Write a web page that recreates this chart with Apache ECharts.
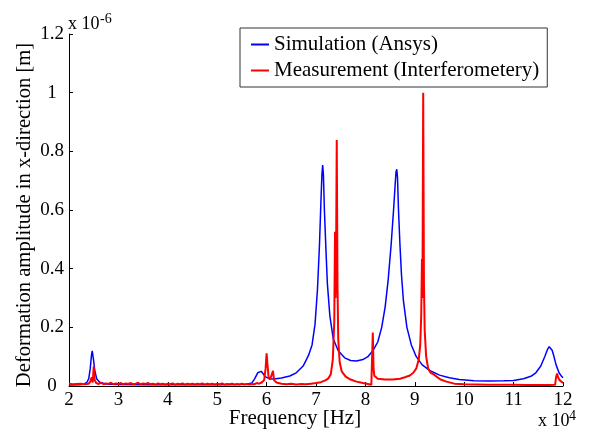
<!DOCTYPE html>
<html>
<head>
<meta charset="utf-8">
<script src="https://cdn.jsdelivr.net/npm/echarts@6/dist/echarts.min.js"></script>
<style>html,body{margin:0;padding:0;background:#fff}#c{width:590px;height:432px}</style>
</head>
<body>
<div id="c"></div>
<script>
// Frequency in units of 1e4 Hz, amplitude in units of 1e-6 m
var xTicks = [2,3,4,5,6,7,8,9,10,11,12];
var yTicks = [0,0.2,0.4,0.6,0.8,1,1.2];
var xName = 'Frequency [Hz]';
var yName = 'Deformation amplitude in x-direction [m]';

var simFreq = [2.0,2.2,2.3,2.36,2.4,2.43,2.455,2.47,2.485,2.5,2.52,2.56,2.62,2.75,3.0,3.5,4.0,4.5,5.0,5.4,5.6,5.7,5.76,5.82,5.86,5.89,5.93,5.97,6.05,6.15,6.3,6.47,6.6,6.74,6.85,6.92,6.98,7.03,7.07,7.1,7.12,7.135,7.15,7.17,7.2,7.23,7.28,7.35,7.45,7.58,7.7,7.82,7.95,8.05,8.15,8.25,8.33,8.4,8.46,8.52,8.57,8.6,8.62,8.635,8.65,8.67,8.7,8.73,8.77,8.84,8.93,9.03,9.15,9.3,9.5,9.7,9.9,10.2,10.5,10.8,11.0,11.2,11.35,11.45,11.55,11.63,11.69,11.72,11.75,11.78,11.81,11.86,11.92,11.97,12.0];
var simAmp  = [0.003,0.004,0.006,0.012,0.025,0.06,0.105,0.12,0.115,0.085,0.055,0.025,0.013,0.007,0.005,0.004,0.004,0.004,0.004,0.005,0.006,0.01,0.025,0.045,0.051,0.05,0.042,0.032,0.025,0.024,0.027,0.034,0.045,0.068,0.105,0.14,0.21,0.33,0.48,0.63,0.72,0.753,0.72,0.6,0.47,0.35,0.24,0.16,0.12,0.096,0.087,0.085,0.09,0.1,0.12,0.15,0.2,0.27,0.36,0.48,0.6,0.68,0.73,0.739,0.71,0.6,0.48,0.38,0.29,0.2,0.14,0.1,0.072,0.053,0.037,0.028,0.022,0.018,0.017,0.018,0.019,0.025,0.033,0.045,0.068,0.10,0.126,0.134,0.132,0.122,0.105,0.072,0.045,0.033,0.028];

var measFreq = [2.0,2.04,2.08,2.12,2.16,2.2,2.24,2.28,2.32,2.36,2.4,2.43,2.46,2.48,2.5,2.52,2.55,2.6,2.65,2.7,2.75,2.8,2.85,2.9,2.95,3.0,3.05,3.1,3.15,3.2,3.25,3.3,3.35,3.4,3.45,3.5,3.55,3.6,3.65,3.7,3.75,3.8,3.85,3.9,3.95,4.0,4.05,4.1,4.15,4.2,4.25,4.3,4.35,4.4,4.45,4.5,4.55,4.6,4.65,4.7,4.75,4.8,4.85,4.9,4.95,5.0,5.05,5.1,5.15,5.2,5.25,5.3,5.35,5.4,5.45,5.5,5.55,5.6,5.65,5.7,5.75,5.8,5.85,5.9,5.95,5.98,6.0,6.02,6.04,6.07,6.1,6.13,6.15,6.2,6.3,6.4,6.5,6.6,6.7,6.8,6.9,7.0,7.1,7.2,7.25,7.3,7.34,7.37,7.385,7.395,7.405,7.42,7.435,7.45,7.48,7.52,7.6,7.7,7.82,7.95,8.05,8.12,8.15,8.165,8.18,8.25,8.4,8.55,8.7,8.8,8.9,8.97,9.03,9.08,9.11,9.13,9.145,9.155,9.17,9.185,9.2,9.23,9.27,9.32,9.38,9.44,9.52,9.64,9.8,10.0,10.25,10.5,10.75,11.0,11.25,11.5,11.7,11.84,11.86,11.88,11.9,11.93,11.96,12.0];
var measAmp  = [0.008,0.012,0.006,0.011,0.007,0.013,0.008,0.012,0.006,0.01,0.008,0.015,0.03,0.012,0.066,0.02,0.01,0.007,0.011,0.006,0.009,0.007,0.011,0.006,0.009,0.007,0.01,0.006,0.009,0.007,0.01,0.006,0.008,0.011,0.006,0.009,0.007,0.01,0.006,0.008,0.005,0.009,0.006,0.008,0.005,0.008,0.006,0.009,0.005,0.008,0.006,0.009,0.005,0.008,0.006,0.008,0.005,0.008,0.006,0.009,0.005,0.008,0.006,0.008,0.005,0.008,0.006,0.009,0.005,0.007,0.006,0.008,0.005,0.007,0.005,0.008,0.005,0.007,0.005,0.007,0.006,0.01,0.008,0.012,0.02,0.06,0.111,0.07,0.03,0.022,0.018,0.052,0.02,0.012,0.008,0.006,0.008,0.005,0.007,0.006,0.008,0.01,0.013,0.02,0.026,0.04,0.09,0.22,0.526,0.3,0.4,0.839,0.35,0.16,0.08,0.05,0.032,0.022,0.015,0.01,0.007,0.004,0.182,0.06,0.035,0.025,0.022,0.022,0.025,0.03,0.036,0.045,0.06,0.09,0.14,0.24,0.433,0.3,1.0,0.35,0.19,0.1,0.06,0.045,0.04,0.032,0.022,0.015,0.008,0.006,0.005,0.004,0.004,0.004,0.003,0.003,0.003,0.004,0.03,0.043,0.03,0.02,0.015,0.01];

function zip(a,b){var r=[];for(var i=0;i<a.length;i++)r.push([a[i],b[i]]);return r;}

var FONT = 'Liberation Serif';
var chart = echarts.init(document.getElementById('c'), null, {renderer:'canvas'});
chart.setOption({
  animation:false,
  backgroundColor:'#fff',
  grid:{left:69,right:27,top:34,bottom:46,containLabel:false},
  legend:{
    orient:'vertical', left:240, top:28,
    padding:[6,8,6,11], itemGap:5,
    itemWidth:18, itemHeight:2, icon:'rect',
    borderColor:'#333', borderWidth:1, backgroundColor:'#fff',
    textStyle:{fontFamily:FONT,fontSize:21,color:'#000',lineHeight:20},
    data:['Simulation (Ansys)','Measurement (Interferometery)']
  },
  xAxis:{
    type:'value', min:xTicks[0], max:xTicks[xTicks.length-1], interval:1,
    axisLine:{lineStyle:{color:'#000',width:1}},
    axisTick:{inside:true,length:4,lineStyle:{color:'#000'}},
    axisLabel:{fontFamily:FONT,fontSize:19,color:'#000',margin:5},
    splitLine:{show:false}
  },
  yAxis:{
    type:'value', min:yTicks[0], max:yTicks[yTicks.length-1], interval:0.2,
    axisLine:{show:true,lineStyle:{color:'#000',width:1}},
    axisTick:{show:true,inside:true,length:4,lineStyle:{color:'#000'}},
    axisLabel:{fontFamily:FONT,fontSize:19,color:'#000',margin:17,align:'center',
      formatter:function(v){return String(Math.round(v*10)/10);}},
    splitLine:{show:false}
  },
  graphic:[
    {type:'text',x:295,y:418,style:{text:xName,font:'21px "Liberation Serif"',fill:'#000',align:'center',verticalAlign:'middle'}},
    {type:'text',x:25,y:215,rotation:Math.PI/2,style:{text:yName,font:'20.6px "Liberation Serif"',fill:'#000',align:'center',verticalAlign:'middle'}},
    {type:'text',left:68,top:15,style:{text:'x 10',font:'18px "Liberation Serif"',fill:'#000'}},
    {type:'text',left:100,top:12,style:{text:'-6',font:'14px "Liberation Serif"',fill:'#000'}},
    {type:'text',left:538,top:412,style:{text:'x 10',font:'18px "Liberation Serif"',fill:'#000'}},
    {type:'text',left:569,top:409,style:{text:'4',font:'14px "Liberation Serif"',fill:'#000'}}
  ],
  series:[
    {name:'Simulation (Ansys)',type:'line',data:zip(simFreq,simAmp),showSymbol:false,
     lineStyle:{color:'#0000ff',width:1.5},itemStyle:{color:'#0000ff'},z:2},
    {name:'Measurement (Interferometery)',type:'line',data:zip(measFreq,measAmp),showSymbol:false,
     lineStyle:{color:'#ff0000',width:2},itemStyle:{color:'#ff0000'},z:3}
  ]
});
</script>
</body>
</html>
